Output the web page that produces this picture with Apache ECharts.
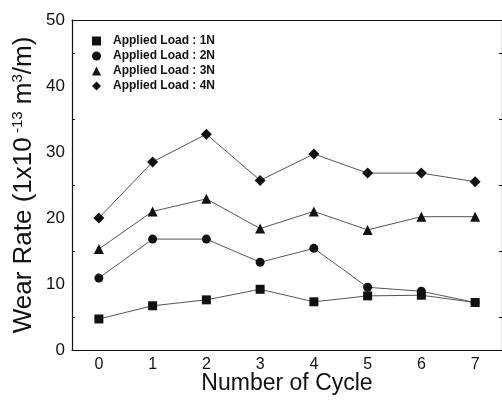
<!DOCTYPE html>
<html>
<head>
<meta charset="utf-8">
<script src="https://cdn.jsdelivr.net/npm/echarts@6/dist/echarts.min.js"></script>
<style>
  html, body { margin: 0; padding: 0; background: #fff; }
  #chart { width: 502px; height: 403px; }
</style>
</head>
<body>
<div id="chart"></div>
<script>
var cycles = ["0", "1", "2", "3", "4", "5", "6", "7"];
var load1N = [4.7, 6.7, 7.6, 9.2, 7.3, 8.2, 8.3, 7.2];
var load2N = [10.9, 16.8, 16.8, 13.3, 15.4, 9.5, 8.9, 7.2];
var load3N = [15.3, 21.0, 22.9, 18.4, 21.0, 18.2, 20.2, 20.2];
var load4N = [20.0, 28.5, 32.7, 25.7, 29.7, 26.8, 26.8, 25.5];

var font = "Liberation Sans, Arial, sans-serif";

function line(name, data, symbol, size) {
  return {
    name: name,
    type: "line",
    data: data,
    symbol: symbol,
    symbolSize: size,
    itemStyle: { color: "#111" },
    lineStyle: { color: "#555", width: 1 },
    animation: false
  };
}

var chart = echarts.init(document.getElementById("chart"), null, { renderer: "canvas" });
var option = {
  backgroundColor: "#fff",
  grid: { left: 72, top: 20, right: 0, bottom: 53, outerBoundsMode: "none" },
  legend: {
    left: 87, top: 30, orient: "vertical", itemGap: 3,
    itemWidth: 9, itemHeight: 9,
    textStyle: { fontFamily: font, fontSize: 12, fontWeight: "bold", color: "#111", padding: [0, 0, 0, 7] },
    data: [
      { name: "Applied Load : 1N", icon: "rect" },
      { name: "Applied Load : 2N", icon: "circle" },
      { name: "Applied Load : 3N", icon: "triangle" },
      { name: "Applied Load : 4N", icon: "diamond" }
    ]
  },
  xAxis: [{
    type: "category", data: cycles, boundaryGap: true,
    name: "Number of Cycle", nameLocation: "middle", nameGap: 22, nameMoveOverlap: false,
    nameTextStyle: { fontFamily: font, fontSize: 23, color: "#111", verticalAlign: "top" },
    axisLine: { lineStyle: { color: "#111", width: 1.2 } },
    axisTick: { inside: true, alignWithLabel: true, length: 5, lineStyle: { color: "#111" } },
    axisLabel: { fontFamily: font, fontSize: 16, color: "#111", margin: 7 },
    splitLine: { show: false }
  }, {
    type: "category", data: cycles, boundaryGap: true, position: "top",
    axisLine: { onZero: false, lineStyle: { color: "#111", width: 1.2 } },
    axisTick: { inside: true, alignWithLabel: true, length: 5, lineStyle: { color: "#111" } },
    axisLabel: { show: false }
  }],
  yAxis: [{
    type: "value", min: 0, max: 50, interval: 10,
    name: "Wear Rate (1x10{sup| -13} m{sup|3}/m)",
    nameLocation: "middle", nameGap: 35, nameRotate: 90, nameMoveOverlap: false,
    nameTextStyle: {
      fontFamily: font, fontSize: 26, color: "#111",
      rich: { sup: { fontFamily: font, fontSize: 15, color: "#111", verticalAlign: "top", padding: [0, 0, 12, 0] } }
    },
    axisLine: { show: true, onZero: false, lineStyle: { color: "#111", width: 1.2 } },
    axisTick: { inside: true, length: 5, lineStyle: { color: "#111" } },
    minorTick: { show: true, splitNumber: 2, length: 3, lineStyle: { color: "#111" } },
    axisLabel: { fontFamily: font, fontSize: 17, color: "#111", margin: 7 },
    splitLine: { show: false }
  }, {
    type: "value", min: 0, max: 50, interval: 10, position: "right",
    axisLine: { show: true, onZero: false, lineStyle: { color: "#111", width: 1.2 } },
    axisTick: { inside: true, length: 5, lineStyle: { color: "#111" } },
    minorTick: { show: true, splitNumber: 2, length: 3, lineStyle: { color: "#111" } },
    axisLabel: { show: false },
    splitLine: { show: false }
  }],
  series: [
    line("Applied Load : 1N", load1N, "rect", 9),
    line("Applied Load : 2N", load2N, "circle", 9),
    line("Applied Load : 3N", load3N, "triangle", 10),
    line("Applied Load : 4N", load4N, "diamond", 11)
  ]
};
chart.setOption(option);
</script>
</body>
</html>
